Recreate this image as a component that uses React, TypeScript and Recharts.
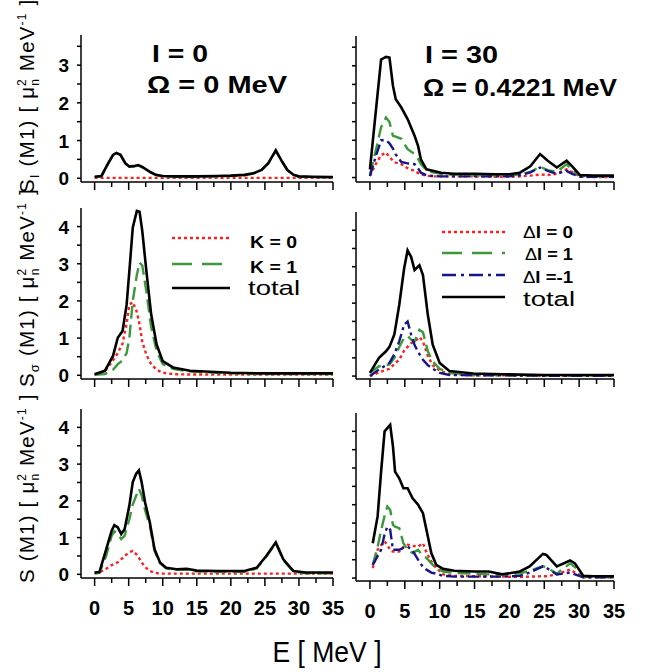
import React from "react";
import { LineChart, Line, XAxis, YAxis } from "recharts";

const FONT = '"Liberation Sans", Arial, sans-serif';
const RED = "#ff1f1f";
const GREEN = "#3a9a3a";
const BLUE = "#16168a";
const BLACK = "#000000";

const xTicks = [0, 2.5, 5, 7.5, 10, 12.5, 15, 17.5, 20, 22.5, 25, 27.5, 30, 32.5, 35];
const yTicksTop = [0, 0.5, 1, 1.5, 2, 2.5, 3, 3.5];
const yTicksLow = [0, 0.5, 1, 1.5, 2, 2.5, 3, 3.5, 4];

// top row: S_I(M1)
const eTopL = [0, 1, 2, 2.7, 3.2, 3.8, 4.5, 5.1, 5.7, 6.4, 7, 8, 9, 10, 12, 15, 18, 20, 22, 23.3, 24.5, 25.5, 26.6, 27.5, 28.3, 29.2, 30, 32, 35];
const topLTotal = [0.04, 0.06, 0.4, 0.62, 0.67, 0.62, 0.4, 0.31, 0.32, 0.35, 0.3, 0.18, 0.09, 0.06, 0.05, 0.05, 0.06, 0.07, 0.09, 0.13, 0.22, 0.4, 0.74, 0.45, 0.22, 0.09, 0.05, 0.04, 0.03];
const topLK0 = [0.01, 0.01, 0.01, 0.01, 0.01, 0.01, 0.01, 0.01, 0.01, 0.01, 0.01, 0.01, 0.01, 0.01, 0.01, 0.01, 0.01, 0.01, 0.01, 0.01, 0.01, 0.01, 0.01, 0.01, 0.01, 0.01, 0.01, 0.01, 0.01];
const topLK1 = [0.03, 0.05, 0.39, 0.61, 0.66, 0.61, 0.39, 0.3, 0.31, 0.34, 0.29, 0.17, 0.08, 0.05, 0.04, 0.04, 0.05, 0.06, 0.08, 0.12, 0.21, 0.39, 0.73, 0.44, 0.21, 0.08, 0.04, 0.03, 0.02];

const eTopR = [0, 0.8, 1.6, 2.3, 2.8, 3.3, 3.7, 4.5, 5.4, 6.4, 6.9, 7.3, 8.1, 9, 10.2, 12, 15, 18, 20, 21.5, 23, 24.4, 25.5, 26.8, 28.2, 29, 30.1, 32, 35];
const topRTotal = [0.22, 1.7, 3.17, 3.24, 3.22, 2.46, 2.1, 1.88, 1.57, 1.12, 0.85, 0.49, 0.22, 0.18, 0.13, 0.1, 0.1, 0.09, 0.09, 0.13, 0.3, 0.63, 0.45, 0.27, 0.45, 0.3, 0.07, 0.05, 0.05];
const topRD1 = [0.08, 0.7, 1.35, 1.61, 1.49, 1.12, 1.1, 1.04, 0.76, 0.63, 0.5, 0.36, 0.2, 0.14, 0.1, 0.07, 0.06, 0.06, 0.06, 0.08, 0.15, 0.29, 0.2, 0.15, 0.36, 0.2, 0.05, 0.03, 0.03];
const topRDm1 = [0.04, 0.55, 1.0, 1.0, 0.92, 0.78, 0.62, 0.42, 0.38, 0.36, 0.25, 0.13, 0.06, 0.04, 0.03, 0.03, 0.03, 0.03, 0.03, 0.06, 0.14, 0.27, 0.18, 0.1, 0.18, 0.1, 0.02, 0.02, 0.02];
const topRD0 = [0.05, 0.35, 0.6, 0.67, 0.55, 0.45, 0.4, 0.36, 0.25, 0.18, 0.12, 0.09, 0.05, 0.03, 0.03, 0.03, 0.03, 0.02, 0.02, 0.03, 0.05, 0.08, 0.07, 0.1, 0.22, 0.15, 0.02, 0.01, 0.01];

// middle row: S_sigma(M1)
const eMidL = [0, 1.5, 2.7, 3.4, 4.1, 4.7, 5.1, 5.6, 6.2, 6.6, 7, 7.6, 8.3, 9.1, 10, 11.5, 14, 20, 25, 30, 35];
const midLTotal = [0.03, 0.12, 0.52, 1.01, 1.19, 1.9, 2.8, 3.97, 4.42, 4.4, 3.88, 2.8, 1.64, 0.83, 0.38, 0.21, 0.12, 0.07, 0.05, 0.05, 0.05];
const midLK0 = [0.02, 0.1, 0.4, 0.6, 0.85, 1.4, 1.9, 1.97, 1.7, 1.37, 0.9, 0.55, 0.3, 0.15, 0.07, 0.03, 0.02, 0.02, 0.02, 0.02, 0.02];
const midLK1 = [0.01, 0.03, 0.15, 0.3, 0.4, 0.6, 1.0, 2.0, 2.7, 3.03, 2.95, 2.25, 1.3, 0.65, 0.3, 0.17, 0.1, 0.05, 0.03, 0.03, 0.03];

const eMidR = [0, 1.3, 2.3, 2.8, 3.5, 4.2, 4.9, 5.4, 5.9, 6.4, 7.1, 7.6, 8.3, 9, 10, 11.4, 14.8, 19.1, 25, 30, 35];
const midRTotal = [0.09, 0.5, 0.68, 0.8, 1.14, 1.95, 2.95, 3.45, 3.27, 2.91, 3.04, 2.77, 1.68, 0.86, 0.36, 0.14, 0.07, 0.05, 0.03, 0.03, 0.03];
const midRD1 = [0.09, 0.27, 0.3, 0.32, 0.5, 0.8, 1.05, 1.1, 1.0, 0.95, 1.27, 1.2, 0.68, 0.4, 0.2, 0.08, 0.04, 0.03, 0.02, 0.02, 0.02];
const midRDm1 = [0, 0.18, 0.3, 0.36, 0.6, 0.95, 1.41, 1.5, 1.14, 0.85, 0.6, 0.45, 0.3, 0.2, 0.09, 0.03, 0.02, 0.02, 0.01, 0.01, 0.01];
const midRD0 = [0, 0.1, 0.17, 0.2, 0.33, 0.45, 0.7, 0.8, 0.9, 0.95, 1.07, 0.95, 0.55, 0.3, 0.15, 0.05, 0.02, 0.02, 0.01, 0.01, 0.01];

// bottom row: S(M1)
const eBotL = [0, 0.7, 1.7, 2.5, 2.9, 3.4, 3.9, 4.4, 5.1, 5.6, 6.1, 6.5, 6.9, 7.4, 8.1, 8.8, 9.6, 10.5, 12, 13.5, 15, 18, 22, 23.8, 25.2, 26.6, 27.7, 29.2, 31, 35];
const botLTotal = [0.05, 0.06, 0.68, 1.19, 1.34, 1.28, 1.1, 1.23, 1.87, 2.51, 2.74, 2.83, 2.51, 1.96, 1.42, 0.68, 0.32, 0.18, 0.14, 0.15, 0.1, 0.09, 0.09, 0.18, 0.5, 0.87, 0.41, 0.09, 0.05, 0.05];
const botLK0 = [0.02, 0.05, 0.15, 0.25, 0.28, 0.33, 0.41, 0.5, 0.6, 0.64, 0.55, 0.45, 0.33, 0.2, 0.09, 0.04, 0.02, 0.02, 0.02, 0.02, 0.02, 0.02, 0.02, 0.02, 0.02, 0.02, 0.02, 0.02, 0.02, 0.02];
const botLK1 = [0.03, 0.04, 0.5, 1.05, 1.17, 1.1, 0.96, 1.05, 1.5, 1.9, 2.14, 2.33, 2.15, 1.75, 1.32, 0.64, 0.3, 0.16, 0.12, 0.13, 0.08, 0.07, 0.07, 0.16, 0.48, 0.85, 0.39, 0.07, 0.03, 0.03];

const eBotR = [0.4, 1.1, 1.6, 2.1, 2.5, 2.9, 3.3, 3.6, 4.2, 4.8, 5.4, 6.1, 6.9, 7.6, 8.1, 8.8, 9.5, 10.5, 12.1, 15, 17, 19, 21.5, 22.9, 24.8, 25.3, 26.8, 28.7, 29.4, 30.6, 32, 35];
const botRTotal = [0.95, 1.68, 2.9, 4.0, 4.09, 4.18, 3.59, 2.9, 2.72, 2.45, 2.45, 2.18, 2.0, 1.77, 1.32, 0.68, 0.36, 0.25, 0.2, 0.18, 0.18, 0.1, 0.18, 0.32, 0.66, 0.63, 0.32, 0.48, 0.4, 0.06, 0.05, 0.05];
const botRD1 = [0.36, 0.85, 1.3, 1.7, 1.95, 1.86, 1.45, 1.4, 1.36, 0.95, 0.77, 0.68, 0.77, 0.6, 0.55, 0.4, 0.27, 0.18, 0.14, 0.12, 0.1, 0.1, 0.12, 0.2, 0.32, 0.3, 0.12, 0.4, 0.3, 0.04, 0.03, 0.03];
const botRDm1 = [0.36, 0.6, 0.77, 1.2, 1.4, 1.32, 0.77, 0.77, 0.77, 0.82, 0.86, 0.75, 0.5, 0.3, 0.23, 0.15, 0.12, 0.06, 0.04, 0.04, 0.04, 0.04, 0.06, 0.15, 0.32, 0.28, 0.1, 0.15, 0.1, 0.02, 0.02, 0.02];
const botRD0 = [0.27, 0.77, 0.9, 1.0, 0.9, 0.77, 0.72, 0.72, 0.72, 0.85, 0.91, 0.88, 0.86, 0.95, 0.7, 0.45, 0.27, 0.1, 0.06, 0.05, 0.05, 0.04, 0.03, 0.04, 0.05, 0.05, 0.1, 0.23, 0.15, 0.02, 0.02, 0.02];

type Series = { key: string; color: string; dash?: string; values: number[] };

const red = (values: number[]): Series => ({ key: "d0", color: RED, dash: "3 3", values });
const green = (values: number[]): Series => ({ key: "d1", color: GREEN, dash: "13 6", values });
const blue = (values: number[]): Series => ({ key: "dm1", color: BLUE, dash: "11 4 3 4", values });
const black = (values: number[]): Series => ({ key: "total", color: BLACK, values });

function toRows(e: number[], series: Series[]) {
  return e.map((x, i) => {
    const row: Record<string, number> = { e: x };
    series.forEach((s) => (row[s.key] = s.values[i]));
    return row;
  });
}

function XTick(props: any) {
  const { x, y, payload, showLabel } = props;
  const major = payload.value % 5 === 0;
  return (
    <g>
      <line x1={x} x2={x} y1={y} y2={y + (major ? 8 : 5)} stroke="#000" strokeWidth={1.5} />
      {showLabel && major && (
        <text x={x} y={y + 37} textAnchor="middle" fontFamily={FONT} fontWeight="bold" fontSize={20} fill="#000">
          {payload.value}
        </text>
      )}
    </g>
  );
}

function YTick(props: any) {
  const { x, y, payload, showLabel } = props;
  const major = Number.isInteger(payload.value);
  return (
    <g>
      <line x1={x} x2={x - 4} y1={y} y2={y} stroke="#000" strokeWidth={1.5} />
      {showLabel && major && (
        <text x={x - 12} y={y + 7} textAnchor="end" fontFamily={FONT} fontWeight="bold" fontSize={19} fill="#000">
          {payload.value}
        </text>
      )}
    </g>
  );
}

interface PanelProps {
  left: number;
  top: number;
  plotW: number;
  plotH: number;
  yDomain: [number, number];
  yTicks: number[];
  yLabels: boolean;
  xLabels: boolean;
  e: number[];
  series: Series[];
}

function Panel({ left, top, plotW, plotH, yDomain, yTicks, yLabels, xLabels, e, series }: PanelProps) {
  const yW = 40;
  const mTop = 5;
  const mRight = 16;
  const xH = 45;
  const data = toRows(e, series);
  return (
    <div style={{ position: "absolute", left: left - yW, top: top - mTop }}>
      <LineChart width={yW + plotW + mRight} height={mTop + plotH + xH} data={data} margin={{ top: mTop, right: mRight, left: 0, bottom: 0 }}>
        <XAxis
          dataKey="e"
          type="number"
          domain={[-2, 35]}
          ticks={xTicks}
          interval={0}
          allowDataOverflow
          height={xH}
          tickSize={0}
          tickMargin={0}
          tickLine={false}
          axisLine={{ stroke: "#000", strokeWidth: 1.5 }}
          tick={(p: any) => <XTick {...p} showLabel={xLabels} />}
        />
        <YAxis
          type="number"
          domain={yDomain}
          ticks={yTicks}
          interval={0}
          allowDataOverflow
          width={yW}
          tickSize={0}
          tickMargin={0}
          tickLine={false}
          axisLine={{ stroke: "#000", strokeWidth: 1.5 }}
          tick={(p: any) => <YTick {...p} showLabel={yLabels} />}
        />
        {series.map((s) => (
          <Line
            key={s.key}
            type="linear"
            dataKey={s.key}
            stroke={s.color}
            strokeWidth={s.key === "total" ? 2.6 : 2.4}
            strokeDasharray={s.dash}
            dot={false}
            isAnimationActive={false}
          />
        ))}
      </LineChart>
    </div>
  );
}

function YLabel({ x, y, sub }: { x: number; y: number; sub: string }) {
  return (
    <text transform={`translate(${x},${y}) rotate(-90)`} fontFamily={FONT} fontSize={20.5} letterSpacing={1.2} fill="#000">
      S
      {sub && (
        <tspan fontSize={13} dy={5}>
          {sub}
        </tspan>
      )}
      <tspan dy={sub ? -5 : 0}> (M1) [ μ</tspan>
      <tspan fontSize={12} dy={5}>n</tspan>
      <tspan fontSize={12} dx={-8} dy={-13}>2</tspan>
      <tspan dy={8}> MeV</tspan>
      <tspan fontSize={12} dy={-8}>-1</tspan>
      <tspan dy={8}> ]</tspan>
    </text>
  );
}

function Overlay() {
  const bold = { fontFamily: FONT, fontWeight: "bold" as const, fill: "#000", lengthAdjust: "spacingAndGlyphs" };
  const reg = { fontFamily: FONT, fill: "#000", lengthAdjust: "spacingAndGlyphs" };
  return (
    <svg width={645} height={672} style={{ position: "absolute", left: 0, top: 0, pointerEvents: "none" }}>
      {/* titles */}
      <text x={152} y={62} fontSize={24} textLength={56} {...bold}>I = 0</text>
      <text x={147} y={93} fontSize={24} textLength={140} {...bold}>Ω = 0 MeV</text>
      <text x={425} y={63} fontSize={24} textLength={73} {...bold}>I = 30</text>
      <text x={423} y={96} fontSize={24} textLength={194} {...bold}>Ω = 0.4221 MeV</text>

      {/* legend, left */}
      <line x1={172} x2={230} y1={238} y2={238} stroke={RED} strokeWidth={2.5} strokeDasharray="3 3" />
      <line x1={172} x2={230} y1={264} y2={264} stroke={GREEN} strokeWidth={2.5} strokeDasharray="20 10" />
      <line x1={172} x2={230} y1={288} y2={288} stroke={BLACK} strokeWidth={2.6} />
      <text x={250} y={248} fontSize={17} textLength={47} {...bold}>K = 0</text>
      <text x={250} y={273} fontSize={17} textLength={47} {...bold}>K = 1</text>
      <text x={248} y={295} fontSize={21} textLength={52} {...reg}>total</text>

      {/* legend, right */}
      <line x1={442} x2={505} y1={232} y2={232} stroke={RED} strokeWidth={2.5} strokeDasharray="3 3" />
      <line x1={442} x2={505} y1={253} y2={253} stroke={GREEN} strokeWidth={2.5} strokeDasharray="20 10" />
      <line x1={442} x2={505} y1={275} y2={275} stroke={BLUE} strokeWidth={2.5} strokeDasharray="14 5 3 5" />
      <line x1={442} x2={505} y1={297} y2={297} stroke={BLACK} strokeWidth={2.6} />
      <text x={523} y={238} fontSize={17} textLength={50} {...bold}><tspan fontWeight="normal">Δ</tspan>I = 0</text>
      <text x={525} y={260} fontSize={17} textLength={48} {...bold}><tspan fontWeight="normal">Δ</tspan>I = 1</text>
      <text x={523} y={283} fontSize={17} textLength={50} {...bold}><tspan fontWeight="normal">Δ</tspan>I =-1</text>
      <text x={523} y={306} fontSize={20} textLength={52} {...reg}>total</text>

      {/* y labels */}
      <YLabel x={34} y={193} sub="I" />
      <YLabel x={34} y={387} sub="σ" />
      <YLabel x={34} y={583} sub="" />

      {/* x label */}
      <text x={327} y={662} textAnchor="middle" fontSize={30} textLength={109} {...reg}>
        E [ MeV ]
      </text>
    </svg>
  );
}

export default function App() {
  return (
    <div style={{ position: "absolute", left: 0, top: 0, width: 645, height: 672, background: "#fff" }}>
      <Panel left={81} top={35} plotW={252} plotH={147} yDomain={[-0.1, 3.8]} yTicks={yTicksTop} yLabels xLabels={false}
        e={eTopL} series={[red(topLK0), green(topLK1), black(topLTotal)]} />
      <Panel left={356} top={36} plotW={258} plotH={146} yDomain={[-0.12, 3.8]} yTicks={yTicksTop} yLabels={false} xLabels={false}
        e={eTopR} series={[red(topRD0), green(topRD1), blue(topRDm1), black(topRTotal)]} />
      <Panel left={81} top={208} plotW={252} plotH={171} yDomain={[-0.1, 4.5]} yTicks={yTicksLow} yLabels xLabels={false}
        e={eMidL} series={[red(midLK0), green(midLK1), black(midLTotal)]} />
      <Panel left={356} top={212} plotW={258} plotH={167} yDomain={[-0.08, 4.5]} yTicks={yTicksLow} yLabels={false} xLabels={false}
        e={eMidR} series={[red(midRD0), green(midRD1), blue(midRDm1), black(midRTotal)]} />
      <Panel left={81} top={409} plotW={252} plotH={169} yDomain={[-0.1, 4.5]} yTicks={yTicksLow} yLabels xLabels
        e={eBotL} series={[red(botLK0), green(botLK1), black(botLTotal)]} />
      <Panel left={356} top={413} plotW={258} plotH={168} yDomain={[-0.08, 4.5]} yTicks={yTicksLow} yLabels={false} xLabels
        e={eBotR} series={[red(botRD0), green(botRD1), blue(botRDm1), black(botRTotal)]} />
      <Overlay />
    </div>
  );
}
